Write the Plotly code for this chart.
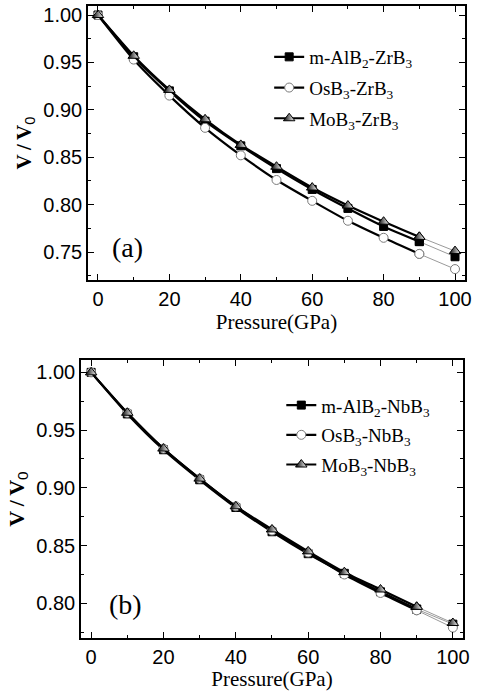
import plotly.graph_objects as go

pressure = [0, 10, 20, 30, 40, 50, 60, 70, 80, 90, 100]

# Panel (a): ZrB3
alb2_zrb3 = [1.000, 0.956, 0.920, 0.888, 0.862, 0.838, 0.816, 0.796, 0.777, 0.761, 0.745]
osb3_zrb3 = [1.000, 0.953, 0.915, 0.881, 0.852, 0.826, 0.804, 0.783, 0.765, 0.748, 0.732]
mob3_zrb3 = [1.000, 0.957, 0.921, 0.890, 0.863, 0.840, 0.818, 0.799, 0.782, 0.766, 0.751]

# Panel (b): NbB3
alb2_nbb3 = [1.000, 0.964, 0.933, 0.907, 0.883, 0.862, 0.843, 0.826, 0.810, 0.795, 0.782]
osb3_nbb3 = [1.000, 0.965, 0.934, 0.908, 0.884, 0.863, 0.844, 0.825, 0.809, 0.794, 0.779]
mob3_nbb3 = [1.000, 0.965, 0.934, 0.908, 0.884, 0.864, 0.845, 0.827, 0.812, 0.797, 0.783]

names_a = ["m-AlB<sub>2</sub>-ZrB<sub>3</sub>", "OsB<sub>3</sub>-ZrB<sub>3</sub>", "MoB<sub>3</sub>-ZrB<sub>3</sub>"]
names_b = ["m-AlB<sub>2</sub>-NbB<sub>3</sub>", "OsB<sub>3</sub>-NbB<sub>3</sub>", "MoB<sub>3</sub>-NbB<sub>3</sub>"]

markers = [
    dict(symbol="square", size=8, color="black", line=dict(color="black", width=1)),
    dict(symbol="circle", size=9, color="white", line=dict(color="#7a7a7a", width=1)),
    dict(symbol="triangle-up", size=10, color="black",
         gradient=dict(type="horizontal", color="white"),
         line=dict(color="black", width=1)),
]

fig = go.Figure()

def add_panel(series, names, xa, ya, legend, tag):
    for i, (vals, name, mk) in enumerate(zip(series, names, markers)):
        grp = f"{tag}{i}"
        fig.add_trace(go.Scatter(
            x=pressure[:10], y=vals[:10], mode="lines+markers", name=name,
            line=dict(color="black", width=2.2, shape="spline", smoothing=0.6),
            marker=mk, xaxis=xa, yaxis=ya, legend=legend, legendgroup=grp, showlegend=True))
        fig.add_trace(go.Scatter(
            x=pressure[9:], y=vals[9:], mode="lines+markers", name=name,
            line=dict(color="#9a9a9a", width=1),
            marker=mk, xaxis=xa, yaxis=ya, legendgroup=grp, showlegend=False))

add_panel([alb2_zrb3, osb3_zrb3, mob3_zrb3], names_a, "x", "y", "legend", "a")
add_panel([alb2_nbb3, osb3_nbb3, mob3_nbb3], names_b, "x2", "y2", "legend2", "b")

tickfont = dict(family="Liberation Sans, Arial", size=20, color="black")
titlefont = dict(family="Liberation Serif, Times New Roman", size=21, color="black")

def xaxis(domain, anchor):
    return dict(domain=domain, anchor=anchor, range=[-2.8, 102.8], tickvals=[0, 20, 40, 60, 80, 100],
                ticks="inside", ticklen=6, tickwidth=1.2, tickcolor="black",
                minor=dict(ticks="inside", ticklen=3, tickwidth=1, tickcolor="black", dtick=10, tick0=0),
                showline=True, linecolor="black", linewidth=1.5, mirror="allticks",
                showgrid=False, zeroline=False, tickfont=tickfont, automargin=False,
                title=dict(text="Pressure(GPa)", font=titlefont, standoff=0))

def yaxis(domain, anchor, rng, tickvals, tsize):
    return dict(domain=domain, anchor=anchor, range=rng, tickvals=tickvals,
                ticktext=[f"{v:.2f}" for v in tickvals],
                ticks="inside", ticklen=6, tickwidth=1.2, tickcolor="black",
                minor=dict(ticks="inside", ticklen=3, tickwidth=1, tickcolor="black", dtick=0.025, tick0=0),
                showline=True, linecolor="black", linewidth=1.5, mirror="allticks",
                showgrid=False, zeroline=False, tickfont=tickfont, automargin=False,
                title=dict(text="<b>V\u2009/\u2009V</b><sub><span style='font-family:Liberation Sans'>0</span></sub>",
                           font=dict(family="Liberation Serif, Times New Roman", size=tsize, color="black"),
                           standoff=6))

yt = [0.75, 0.80, 0.85, 0.90, 0.95, 1.00]
yt2 = [0.80, 0.85, 0.90, 0.95, 1.00]

legfont = dict(family="Liberation Serif, Times New Roman", size=19, color="black")

fig.update_layout(
    width=485, height=691,
    margin=dict(l=0, r=0, t=0, b=0),
    paper_bgcolor="white", plot_bgcolor="white",
    xaxis=xaxis([0.1814, 0.9588], "y"),
    yaxis=yaxis([0.5948, 0.9913], "x", [0.7205, 1.0095], yt, 21),
    xaxis2=xaxis([0.1670, 0.9546], "y2"),
    yaxis2=yaxis([0.0767, 0.4790], "x2", [0.770, 1.0107], yt2, 22),
    legend=dict(x=0.555, y=0.945, xanchor="left", yanchor="top", bgcolor="rgba(0,0,0,0)",
                font=legfont, itemwidth=30, tracegroupgap=3),
    legend2=dict(x=0.58, y=0.441, xanchor="left", yanchor="top", bgcolor="rgba(0,0,0,0)",
                 font=legfont, itemwidth=30, tracegroupgap=2),
    annotations=[
        dict(text="(a)", x=0.058, y=0.12, xref="x domain", yref="y domain", xanchor="left",
             yanchor="middle", showarrow=False,
             font=dict(family="Liberation Serif, Times New Roman", size=28, color="black")),
        dict(text="(b)", x=0.068, y=0.12, xref="x2 domain", yref="y2 domain", xanchor="left",
             yanchor="middle", showarrow=False,
             font=dict(family="Liberation Serif, Times New Roman", size=28, color="black")),
    ],
)

fig.write_html("out.html", config={"displayModeBar": False},
               post_script="document.body.style.margin='0';")
